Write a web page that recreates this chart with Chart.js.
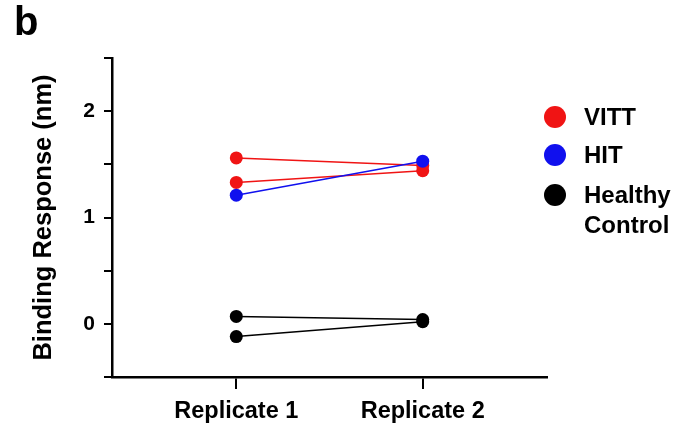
<!DOCTYPE html>
<html>
<head>
<meta charset="utf-8">
<script src="https://cdn.jsdelivr.net/npm/chart.js@4.4.1/dist/chart.umd.min.js"></script>
<style>
  html, body { margin: 0; padding: 0; background: #fff; }
  #wrap { position: relative; width: 694px; height: 429px; }
</style>
</head>
<body>
<div id="wrap"><canvas id="chart" width="694" height="429"></canvas></div>
<script>
const categories = ["Replicate 1", "Replicate 2"];
const groups = ["VITT", "HIT", "Healthy Control"];
const groupColors = ["#f01414", "#1010ee", "#000000"];

// one pair of values per subject (Replicate 1, Replicate 2)
const vittA = [1.56, 1.49];
const vittB = [1.33, 1.44];
const hitA = [1.21, 1.53];
const controlA = [0.07, 0.04];
const controlB = [-0.12, 0.02];

const yTicks = [-0.5, 0, 0.5, 1, 1.5, 2, 2.5];

const FONT = "'Liberation Sans', Arial, sans-serif";

function subject(values, group, order) {
  const color = groupColors[group];
  return {
    label: groups[group],
    data: values.map((v, i) => ({ x: i + 1, y: v })),
    borderColor: color,
    backgroundColor: color,
    pointBackgroundColor: color,
    pointBorderColor: color,
    borderWidth: 1.5,
    pointRadius: 6.5,
    pointBorderWidth: 0,
    order: order
  };
}

// legend + panel letter
const extras = {
  id: "extras",
  afterDraw(chart) {
    const ctx = chart.ctx;
    ctx.save();
    ctx.fillStyle = "#000";
    ctx.font = "bold 40px " + FONT;
    ctx.textBaseline = "alphabetic";
    ctx.textAlign = "left";
    ctx.fillText("b", 14, 35);

    const rows = [117, 155, 195];
    ctx.font = "bold 24px " + FONT;
    ctx.textBaseline = "middle";
    groups.forEach((g, i) => {
      ctx.beginPath();
      ctx.fillStyle = groupColors[i];
      ctx.arc(555, rows[i], 11, 0, Math.PI * 2);
      ctx.fill();
      ctx.fillStyle = "#000";
      const parts = g.split(" ");
      parts.forEach((p, j) => ctx.fillText(p, 584, rows[i] + 1 + j * 30));
    });
    ctx.restore();
  }
};

new Chart(document.getElementById("chart"), {
  type: "line",
  data: {
    datasets: [
      subject(vittA, 0, 3),
      subject(vittB, 0, 2),
      subject(hitA, 1, 1),
      subject(controlA, 2, 4),
      subject(controlB, 2, 5)
    ]
  },
  options: {
    responsive: false,
    animation: false,
    layout: { padding: { top: 58, right: 147, left: 0, bottom: 0 } },
    plugins: { legend: { display: false }, tooltip: { enabled: false } },
    scales: {
      x: {
        type: "linear",
        min: 1 / 3,
        max: 8 / 3,
        afterFit: s => { s.height = 52; },
        afterBuildTicks: s => { s.ticks = categories.map((c, i) => ({ value: i + 1 })); },
        grid: { drawOnChartArea: false, drawTicks: true, tickLength: 12, color: "#000", lineWidth: 2 },
        border: { display: true, color: "#000", width: 2.5 },
        ticks: {
          color: "#000",
          padding: 8,
          font: { family: FONT, size: 23.5, weight: "bold" },
          callback: v => categories[Math.round(v) - 1]
        }
      },
      y: {
        min: -0.5,
        max: 2.5,
        afterFit: s => { s.width = 112; },
        afterBuildTicks: s => { s.ticks = yTicks.map(v => ({ value: v })); },
        grid: { drawOnChartArea: false, drawTicks: true, tickLength: 8, color: "#000", lineWidth: 2 },
        border: { display: true, color: "#000", width: 2.5 },
        ticks: {
          color: "#000",
          padding: 9,
          font: { family: FONT, size: 21, weight: "bold" },
          callback: v => (Number.isInteger(v) ? String(v) : "")
        },
        title: {
          display: true,
          text: "Binding Response (nm)",
          color: "#000",
          font: { family: FONT, size: 25.5, weight: "bold" },
          padding: { top: 29, bottom: 0 }
        }
      }
    }
  },
  plugins: [extras]
});
</script>
</body>
</html>
